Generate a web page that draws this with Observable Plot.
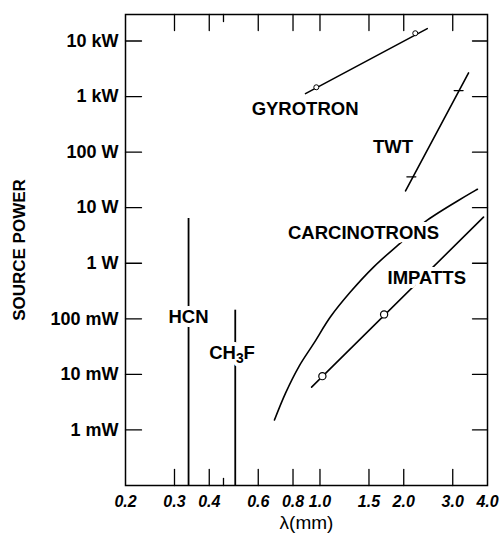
<!DOCTYPE html>
<html><head><meta charset="utf-8">
<script src="https://cdn.jsdelivr.net/npm/d3@7"></script>
<script src="https://cdn.jsdelivr.net/npm/@observablehq/plot@0.6"></script>
<style>body{margin:0;background:#fff}</style>
</head><body><div id="chart"></div>
<script>
// Axis ticks and labels
const xTicks = [0.3, 0.4, 0.6, 0.8, 1.0, 1.5, 2.0, 3.0];
const xMinorTicks = [0.45];
const xTickValues = [0.2, 0.3, 0.4, 0.6, 0.8, 1.0, 1.5, 2.0, 3.0, 4.0];
const xTickLabels = ["0.2", "0.3", "0.4", "0.6", "0.8", "1.0", "1.5", "2.0", "3.0", "4.0"];
const yTickValues = [1e4, 1e3, 100, 10, 1, 0.1, 0.01, 0.001];
const yTickLabels = ["10 kW", "1 kW", "100 W", "10 W", "1 W", "100 mW", "10 mW", "1 mW"];

// Sources (wavelength in mm, power in W)
const gyrotronLambda = [0.887, 2.43];
const gyrotronPower = [1130, 16700];
const gyrotronPointLambda = [0.97, 2.2];
const gyrotronPointPower = [1470, 13800];

const twtLambda = [2.03, 3.42];
const twtPower = [20, 2670];
const twtPointLambda = [2.13, 3.15];
const twtPointPower = [36, 1280];

const carcinotronLambda = [0.686, 0.752, 0.839, 0.950, 1.091, 1.288, 1.561, 1.948, 2.43, 3.68];
const carcinotronPower = [0.00151, 0.00461, 0.0137, 0.0361, 0.1086, 0.306, 0.861, 2.33, 5.96, 21.5];

const impattLambda = [0.933, 3.87];
const impattPower = [0.0059, 6.75];
const impattPointLambda = [1.02, 1.70];
const impattPointPower = [0.0093, 0.12];

const laserNames = ["HCN", "CH3F"];
const laserLambda = [0.337, 0.496];
const laserTopPower = [6.4, 0.143];
const laserBottomPower = [1e-4, 1e-4];

// Annotation labels
const labelText = ["GYROTRON", "TWT", "CARCINOTRONS", "IMPATTS", "HCN", "CH3F"];
const labelLambda = [0.884, 1.83, 1.434, 2.42, 0.337, 0.483];
const labelPower = [604, 122, 3.43, 0.54, 0.107, 0.0239];

const zip = (xs, ys) => xs.map((x, i) => ({x, y: ys[i]}));
const xLabelMap = new Map(xTickValues.map((v, i) => [v, xTickLabels[i]]));
const yLabelMap = new Map(yTickValues.map((v, i) => [v, yTickLabels[i]]));
const lasers = laserNames.map((n, i) => ({name: n, x: laserLambda[i], top: laserTopPower[i], bottom: laserBottomPower[i]}));
const labels = labelText.map((t, i) => ({text: t, x: labelLambda[i], y: labelPower[i]}));

const tickUp = {draw(c, l) { c.moveTo(0, 0); c.lineTo(0, -l); }};
const tickDown = {draw(c, l) { c.moveTo(0, 0); c.lineTo(0, l); }};
const tickRight = {draw(c, l) { c.moveTo(0, 0); c.lineTo(l, 0); }};
const tickLeft = {draw(c, l) { c.moveTo(0, 0); c.lineTo(-l, 0); }};
const dash = {draw(c, l) { c.moveTo(-l / 2, 0); c.lineTo(l / 2, 0); }};

const tickStyle = {stroke: "black", strokeWidth: 1.3, anchor: "start"};
const labelStyle = {x: "x", y: "y", text: "text", fontSize: 18.5, fontWeight: "bold"};

const chart = Plot.plot({
  width: 500,
  height: 537,
  marginLeft: 125,
  marginRight: 13,
  marginTop: 14,
  marginBottom: 52,
  style: {fontFamily: "'Liberation Sans', Arial, sans-serif", background: "white", color: "black"},
  x: {type: "log", domain: [0.2, 4.0]},
  y: {type: "log", domain: [1e-4, 3e4]},
  marks: [
    Plot.frame({stroke: "black", strokeWidth: 1.5}),
    Plot.vectorX(xTicks, {x: d => d, frameAnchor: "bottom", length: 16, shape: tickUp, ...tickStyle}),
    Plot.vectorX(xTicks, {x: d => d, frameAnchor: "top", length: 16, shape: tickDown, ...tickStyle}),
    Plot.vectorX(xMinorTicks, {x: d => d, frameAnchor: "bottom", length: 7, shape: tickUp, ...tickStyle}),
    Plot.vectorX(xMinorTicks, {x: d => d, frameAnchor: "top", length: 7, shape: tickDown, ...tickStyle}),
    Plot.vectorY(yTickValues, {y: d => d, frameAnchor: "left", length: 16, shape: tickRight, ...tickStyle}),
    Plot.vectorY(yTickValues, {y: d => d, frameAnchor: "right", length: 15, shape: tickLeft, ...tickStyle}),
    Plot.axisX({anchor: "bottom", ticks: xTickValues, tickFormat: d => xLabelMap.get(d), tickSize: 0, tickPadding: 10,
      fontSize: 16, fontWeight: "bold", fontStyle: "italic", label: null}),
    Plot.axisY({anchor: "left", ticks: yTickValues, tickFormat: d => yLabelMap.get(d), tickSize: 0, tickPadding: 7,
      fontSize: 18, fontWeight: "bold", label: null}),
    Plot.line(zip(gyrotronLambda, gyrotronPower), {x: "x", y: "y", stroke: "black", strokeWidth: 1.6}),
    Plot.line(zip(twtLambda, twtPower), {x: "x", y: "y", stroke: "black", strokeWidth: 1.6}),
    Plot.line(zip(carcinotronLambda, carcinotronPower), {x: "x", y: "y", stroke: "black", strokeWidth: 1.6, curve: "catmull-rom"}),
    Plot.line(zip(impattLambda, impattPower), {x: "x", y: "y", stroke: "black", strokeWidth: 1.6}),
    Plot.ruleX(lasers, {x: "x", y1: "top", y2: "bottom", stroke: "black", strokeWidth: 1.8}),
    Plot.dot(zip(gyrotronPointLambda, gyrotronPointPower), {x: "x", y: "y", r: 2.5, fill: "white", stroke: "black", strokeWidth: 1}),
    Plot.vector(zip(twtPointLambda, twtPointPower), {x: "x", y: "y", length: 9, shape: dash, anchor: "start", stroke: "black", strokeWidth: 1.2}),
    Plot.dot(zip(impattPointLambda, impattPointPower), {x: "x", y: "y", r: 3.6, fill: "white", stroke: "black", strokeWidth: 1.2}),
    // white halo behind labels (breaks the curves, as in the original)
    Plot.text(labels, {...labelStyle, fill: "white", stroke: "white", strokeWidth: 8}),
    Plot.text(labels, {...labelStyle, fill: "black"}),
    Plot.text(["SOURCE POWER"], {frameAnchor: "left", textAnchor: "middle", dx: -106, rotate: -90, fontSize: 17, fontWeight: "bold", fill: "black"}),
    Plot.text(["λ(mm)"], {frameAnchor: "bottom", dy: 43, fontSize: 19, fill: "black"})
  ]
});

chart.querySelectorAll("text").forEach(t => {
  if (t.textContent === "CH3F") {
    t.textContent = "";
    const ns = "http://www.w3.org/2000/svg";
    const a = document.createElementNS(ns, "tspan"); a.textContent = "CH";
    const b = document.createElementNS(ns, "tspan"); b.textContent = "3";
    b.setAttribute("dy", "0.3em"); b.setAttribute("font-size", "0.75em");
    const c = document.createElementNS(ns, "tspan"); c.textContent = "F";
    c.setAttribute("dy", "-0.22em");
    t.append(a, b, c);
  }
});
document.getElementById("chart").appendChild(chart);
</script>
</body></html>
